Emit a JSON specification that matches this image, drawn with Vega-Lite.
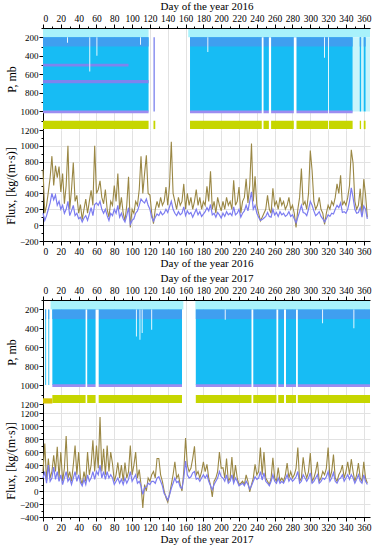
{
"$schema": "https://vega.github.io/schema/vega-lite/v6.json",
"padding": {"left": 4, "top": 0, "right": 2, "bottom": 2},
"background": "white",
"bounds": "flush",
"spacing": 0,
"config": {
  "view": {"stroke": null},
  "font": "Liberation Serif",
  "axis": {"domainColor": "black", "tickColor": "black", "labelColor": "black", "titleColor": "black", "labelFont": "Liberation Serif", "titleFont": "Liberation Serif", "labelFontSize": 9, "titleFontSize": 12, "titleFontWeight": "normal", "gridColor": "#e2e2e2", "labelOverlap": false, "labelPadding": 1, "titlePadding": 2},
  "axisX": {"titleFontSize": 11, "labelFontSize": 9.5, "labelOverlap": false},
  "axisY": {"labelOverlap": false}
},
"datasets": {
  "p16": [
    {"x0":0,"x1":118.5,"p0":110,"p1":200,"k":"lt"},
    {"x0":163,"x1":367,"p0":110,"p1":200,"k":"lt"},
    {"x0":347.5,"x1":367,"p0":200,"p1":1000,"k":"pale"},
    {"x0":0,"x1":118.5,"p0":200,"p1":1000,"k":"main"},
    {"x0":165,"x1":347.5,"p0":200,"p1":1000,"k":"main"},
    {"x0":355.5,"x1":357,"p0":200,"p1":1000,"k":"main"},
    {"x0":360,"x1":362,"p0":200,"p1":1000,"k":"main"},
    {"x0":0,"x1":118.5,"p0":200,"p1":300,"k":"top"},
    {"x0":165,"x1":347.5,"p0":200,"p1":300,"k":"top"},
    {"x0":355.5,"x1":357,"p0":200,"p1":300,"k":"top"},
    {"x0":360,"x1":362,"p0":200,"p1":300,"k":"top"},
    {"x0":124,"x1":125.5,"p0":200,"p1":1000,"k":"band"},
    {"x0":0,"x1":96,"p0":485,"p1":515,"k":"band"},
    {"x0":0,"x1":118.5,"p0":660,"p1":695,"k":"band"},
    {"x0":0,"x1":118.5,"p0":990,"p1":1020,"k":"edge"},
    {"x0":165,"x1":347.5,"p0":990,"p1":1020,"k":"edge"},
    {"x0":0,"x1":118.5,"p0":1100,"p1":1190,"k":"gnd"},
    {"x0":124,"x1":126,"p0":1100,"p1":1190,"k":"gnd"},
    {"x0":165,"x1":347.5,"p0":1100,"p1":1190,"k":"gnd"},
    {"x0":355.5,"x1":357,"p0":1100,"p1":1190,"k":"gnd"},
    {"x0":360,"x1":362,"p0":1100,"p1":1190,"k":"gnd"},
    {"x0":245.5,"x1":247.5,"p0":200,"p1":1195,"k":"gap"},
    {"x0":253.5,"x1":256,"p0":200,"p1":1195,"k":"gap"},
    {"x0":281.5,"x1":284.5,"p0":200,"p1":1195,"k":"gap"},
    {"x0":320,"x1":321,"p0":200,"p1":1195,"k":"gap"},
    {"x0":184.5,"x1":185.5,"p0":200,"p1":360,"k":"gap"},
    {"x0":315.5,"x1":316.5,"p0":200,"p1":420,"k":"gap"},
    {"x0":27,"x1":28,"p0":200,"p1":260,"k":"gap"},
    {"x0":52,"x1":53,"p0":200,"p1":570,"k":"gap"},
    {"x0":60,"x1":61,"p0":200,"p1":400,"k":"gap"},
    {"x0":109,"x1":110,"p0":200,"p1":280,"k":"gap"}
  ],
  "p17": [
    {"x0":8.5,"x1":157.5,"p0":110,"p1":200,"k":"lt"},
    {"x0":171,"x1":367,"p0":110,"p1":200,"k":"lt"},
    {"x0":2.5,"x1":3.5,"p0":200,"p1":1000,"k":"main"},
    {"x0":6,"x1":7,"p0":200,"p1":1000,"k":"main"},
    {"x0":10.5,"x1":156,"p0":200,"p1":1000,"k":"main"},
    {"x0":171.5,"x1":367,"p0":200,"p1":1000,"k":"main"},
    {"x0":2.5,"x1":3.5,"p0":200,"p1":300,"k":"top"},
    {"x0":6,"x1":7,"p0":200,"p1":300,"k":"top"},
    {"x0":10.5,"x1":156,"p0":200,"p1":300,"k":"top"},
    {"x0":171.5,"x1":367,"p0":200,"p1":300,"k":"top"},
    {"x0":10.5,"x1":156,"p0":990,"p1":1020,"k":"edge"},
    {"x0":171.5,"x1":367,"p0":990,"p1":1020,"k":"edge"},
    {"x0":0,"x1":10.5,"p0":1140,"p1":1195,"k":"gnd2"},
    {"x0":10.5,"x1":156,"p0":1105,"p1":1190,"k":"gnd"},
    {"x0":171.5,"x1":367,"p0":1105,"p1":1190,"k":"gnd"},
    {"x0":47.8,"x1":49.6,"p0":200,"p1":1195,"k":"gap"},
    {"x0":59,"x1":62.5,"p0":200,"p1":1195,"k":"gap"},
    {"x0":234,"x1":236,"p0":200,"p1":1195,"k":"gap"},
    {"x0":262,"x1":264,"p0":200,"p1":1195,"k":"gap"},
    {"x0":270.5,"x1":272.7,"p0":200,"p1":1195,"k":"gap"},
    {"x0":284,"x1":286,"p0":200,"p1":1195,"k":"gap"},
    {"x0":204,"x1":205,"p0":200,"p1":310,"k":"gap"},
    {"x0":313.3,"x1":314.3,"p0":200,"p1":345,"k":"gap"},
    {"x0":348.4,"x1":349.4,"p0":200,"p1":400,"k":"gap"},
    {"x0":104.3,"x1":105.3,"p0":200,"p1":485,"k":"gap"},
    {"x0":108.3,"x1":109.3,"p0":200,"p1":520,"k":"gap"},
    {"x0":110.8,"x1":111.8,"p0":200,"p1":450,"k":"gap"},
    {"x0":121.5,"x1":122.5,"p0":200,"p1":414,"k":"gap"}
  ],
  "f16": [
    {"d":0,"u":700,"l":150},{"d":2,"u":150,"l":60},{"d":4,"u":250,"l":120},{"d":6,"u":420,"l":200},{"d":8,"u":600,"l":280},
    {"d":10,"u":870,"l":400},{"d":12,"u":500,"l":320},{"d":14,"u":750,"l":380},{"d":16,"u":600,"l":250},{"d":18,"u":740,"l":300},
    {"d":20,"u":420,"l":200},{"d":22,"u":650,"l":250},{"d":24,"u":270,"l":150},{"d":26,"u":500,"l":200},{"d":28,"u":1000,"l":300},
    {"d":30,"u":200,"l":120},{"d":32,"u":450,"l":180},{"d":34,"u":790,"l":250},{"d":36,"u":300,"l":120},{"d":38,"u":375,"l":150},
    {"d":40,"u":150,"l":80},{"d":42,"u":260,"l":100},{"d":44,"u":70,"l":40},{"d":46,"u":200,"l":90},{"d":48,"u":330,"l":120},
    {"d":50,"u":150,"l":60},{"d":52,"u":300,"l":140},{"d":54,"u":440,"l":220},{"d":56,"u":250,"l":120},{"d":58,"u":1000,"l":260},
    {"d":60,"u":400,"l":280},{"d":62,"u":450,"l":250},{"d":64,"u":560,"l":300},{"d":66,"u":350,"l":200},{"d":68,"u":270,"l":150},
    {"d":70,"u":450,"l":200},{"d":72,"u":200,"l":120},{"d":74,"u":100,"l":60},{"d":76,"u":300,"l":150},{"d":78,"u":250,"l":120},
    {"d":80,"u":500,"l":200},{"d":82,"u":300,"l":150},{"d":84,"u":650,"l":250},{"d":86,"u":200,"l":100},{"d":88,"u":350,"l":150},
    {"d":90,"u":150,"l":80},{"d":92,"u":55,"l":40},{"d":94,"u":250,"l":120},{"d":96,"u":610,"l":220},{"d":98,"u":-30,"l":10},
    {"d":100,"u":200,"l":60},{"d":102,"u":150,"l":80},{"d":104,"u":300,"l":150},{"d":106,"u":250,"l":180},{"d":108,"u":450,"l":250},
    {"d":110,"u":870,"l":330},{"d":112,"u":400,"l":300},{"d":114,"u":650,"l":280},{"d":116,"u":880,"l":330},{"d":118,"u":400,"l":250},
    {"d":120,"u":380,"l":200},{"d":122,"u":150,"l":100},{"d":124,"u":20,"l":50},{"d":126,"u":200,"l":100},{"d":128,"u":300,"l":140},
    {"d":130,"u":220,"l":120},{"d":132,"u":350,"l":170},{"d":134,"u":250,"l":130},{"d":136,"u":300,"l":150},{"d":138,"u":480,"l":200},
    {"d":140,"u":250,"l":160},{"d":142,"u":500,"l":230},{"d":144,"u":1050,"l":300},{"d":146,"u":400,"l":200},{"d":148,"u":300,"l":150},
    {"d":150,"u":200,"l":120},{"d":152,"u":350,"l":170},{"d":154,"u":250,"l":130},{"d":156,"u":300,"l":150},{"d":158,"u":520,"l":230},
    {"d":160,"u":200,"l":120},{"d":162,"u":400,"l":180},{"d":164,"u":250,"l":140},{"d":166,"u":350,"l":160},{"d":168,"u":200,"l":100},
    {"d":170,"u":300,"l":150},{"d":172,"u":450,"l":200},{"d":174,"u":250,"l":130},{"d":176,"u":350,"l":170},{"d":178,"u":200,"l":110},
    {"d":180,"u":300,"l":140},{"d":182,"u":250,"l":170},{"d":184,"u":490,"l":220},{"d":186,"u":300,"l":180},{"d":188,"u":680,"l":260},
    {"d":190,"u":200,"l":130},{"d":192,"u":300,"l":150},{"d":194,"u":150,"l":100},{"d":196,"u":350,"l":160},{"d":198,"u":250,"l":130},
    {"d":200,"u":180,"l":90},{"d":202,"u":300,"l":150},{"d":204,"u":200,"l":110},{"d":206,"u":350,"l":170},{"d":208,"u":250,"l":130},
    {"d":210,"u":300,"l":150},{"d":212,"u":200,"l":120},{"d":214,"u":565,"l":230},{"d":216,"u":250,"l":130},{"d":218,"u":300,"l":150},
    {"d":220,"u":480,"l":200},{"d":222,"u":150,"l":100},{"d":224,"u":300,"l":150},{"d":226,"u":350,"l":180},{"d":228,"u":585,"l":250},
    {"d":230,"u":280,"l":180},{"d":232,"u":500,"l":300},{"d":234,"u":1030,"l":420},{"d":236,"u":300,"l":200},{"d":238,"u":615,"l":250},
    {"d":240,"u":250,"l":150},{"d":242,"u":150,"l":100},{"d":244,"u":55,"l":60},{"d":246,"u":100,"l":70},{"d":248,"u":150,"l":90},
    {"d":250,"u":200,"l":110},{"d":252,"u":375,"l":160},{"d":254,"u":200,"l":110},{"d":256,"u":150,"l":100},{"d":258,"u":465,"l":200},
    {"d":260,"u":250,"l":130},{"d":262,"u":300,"l":160},{"d":264,"u":200,"l":110},{"d":266,"u":350,"l":170},{"d":268,"u":250,"l":130},
    {"d":270,"u":300,"l":150},{"d":272,"u":200,"l":110},{"d":274,"u":250,"l":130},{"d":276,"u":350,"l":170},{"d":278,"u":200,"l":110},
    {"d":280,"u":250,"l":130},{"d":282,"u":150,"l":80},{"d":284,"u":-30,"l":30},{"d":286,"u":200,"l":100},{"d":288,"u":350,"l":170},
    {"d":290,"u":715,"l":250},{"d":292,"u":250,"l":160},{"d":294,"u":300,"l":150},{"d":296,"u":200,"l":120},{"d":298,"u":400,"l":200},
    {"d":300,"u":940,"l":300},{"d":302,"u":690,"l":250},{"d":304,"u":300,"l":180},{"d":306,"u":200,"l":120},{"d":308,"u":250,"l":140},
    {"d":310,"u":350,"l":170},{"d":312,"u":200,"l":110},{"d":314,"u":150,"l":80},{"d":316,"u":10,"l":40},{"d":318,"u":150,"l":80},
    {"d":320,"u":250,"l":130},{"d":322,"u":200,"l":110},{"d":324,"u":300,"l":150},{"d":326,"u":250,"l":140},{"d":328,"u":350,"l":200},
    {"d":330,"u":520,"l":250},{"d":332,"u":400,"l":220},{"d":334,"u":630,"l":280},{"d":336,"u":250,"l":160},{"d":338,"u":300,"l":170},
    {"d":340,"u":250,"l":150},{"d":342,"u":350,"l":200},{"d":344,"u":500,"l":300},{"d":346,"u":950,"l":470},{"d":348,"u":780,"l":350},
    {"d":350,"u":300,"l":200},{"d":352,"u":200,"l":150},{"d":354,"u":250,"l":160},{"d":356,"u":460,"l":220},{"d":358,"u":150,"l":100},
    {"d":360,"u":580,"l":240},{"d":362,"u":380,"l":200},{"d":364,"u":100,"l":80}
  ],
  "f17": [
    {"d":0,"u":300,"l":200},{"d":2,"u":730,"l":300},{"d":4,"u":150,"l":120},{"d":6,"u":500,"l":400},{"d":8,"u":200,"l":150},
    {"d":10,"u":300,"l":200},{"d":12,"u":550,"l":370},{"d":14,"u":300,"l":180},{"d":16,"u":680,"l":300},{"d":18,"u":200,"l":150},
    {"d":20,"u":600,"l":250},{"d":22,"u":150,"l":100},{"d":24,"u":350,"l":200},{"d":26,"u":845,"l":300},{"d":28,"u":200,"l":150},
    {"d":30,"u":300,"l":200},{"d":32,"u":150,"l":100},{"d":34,"u":400,"l":200},{"d":36,"u":700,"l":300},{"d":38,"u":250,"l":150},
    {"d":40,"u":600,"l":250},{"d":42,"u":200,"l":130},{"d":44,"u":100,"l":80},{"d":46,"u":300,"l":180},{"d":48,"u":150,"l":100},
    {"d":50,"u":600,"l":250},{"d":52,"u":250,"l":150},{"d":54,"u":400,"l":200},{"d":56,"u":780,"l":300},{"d":58,"u":300,"l":180},
    {"d":60,"u":700,"l":300},{"d":62,"u":350,"l":250},{"d":64,"u":1140,"l":400},{"d":66,"u":300,"l":200},{"d":68,"u":650,"l":300},
    {"d":70,"u":250,"l":180},{"d":72,"u":700,"l":300},{"d":74,"u":300,"l":200},{"d":76,"u":600,"l":250},{"d":78,"u":420,"l":200},
    {"d":80,"u":150,"l":100},{"d":82,"u":250,"l":150},{"d":84,"u":440,"l":200},{"d":86,"u":200,"l":120},{"d":88,"u":400,"l":180},
    {"d":90,"u":150,"l":100},{"d":92,"u":440,"l":200},{"d":94,"u":200,"l":120},{"d":96,"u":300,"l":180},{"d":98,"u":700,"l":300},
    {"d":100,"u":250,"l":150},{"d":102,"u":400,"l":200},{"d":104,"u":600,"l":250},{"d":106,"u":200,"l":120},{"d":108,"u":330,"l":150},
    {"d":110,"u":100,"l":80},{"d":112,"u":-260,"l":-50},{"d":114,"u":100,"l":50},{"d":116,"u":0,"l":60},{"d":118,"u":200,"l":120},
    {"d":120,"u":150,"l":100},{"d":122,"u":250,"l":150},{"d":124,"u":300,"l":150},{"d":126,"u":200,"l":120},{"d":128,"u":500,"l":200},
    {"d":130,"u":500,"l":220},{"d":132,"u":250,"l":150},{"d":134,"u":150,"l":80},{"d":136,"u":0,"l":-40},{"d":138,"u":-100,"l":-80},
    {"d":140,"u":-170,"l":-140},{"d":142,"u":-50,"l":-60},{"d":144,"u":100,"l":40},{"d":146,"u":250,"l":120},{"d":148,"u":450,"l":200},
    {"d":150,"u":200,"l":130},{"d":152,"u":250,"l":150},{"d":154,"u":100,"l":60},{"d":156,"u":0,"l":40},{"d":158,"u":300,"l":200},
    {"d":160,"u":815,"l":460},{"d":162,"u":400,"l":250},{"d":164,"u":300,"l":200},{"d":166,"u":350,"l":220},{"d":168,"u":500,"l":280},
    {"d":170,"u":690,"l":300},{"d":172,"u":250,"l":180},{"d":174,"u":300,"l":200},{"d":176,"u":200,"l":150},{"d":178,"u":300,"l":200},
    {"d":180,"u":450,"l":250},{"d":182,"u":300,"l":200},{"d":184,"u":410,"l":250},{"d":186,"u":200,"l":150},{"d":188,"u":90,"l":80},
    {"d":190,"u":-90,"l":20},{"d":192,"u":150,"l":100},{"d":194,"u":200,"l":150},{"d":196,"u":300,"l":200},{"d":198,"u":600,"l":300},
    {"d":200,"u":350,"l":220},{"d":202,"u":360,"l":200},{"d":204,"u":200,"l":150},{"d":206,"u":500,"l":250},{"d":208,"u":150,"l":120},
    {"d":210,"u":200,"l":150},{"d":212,"u":525,"l":250},{"d":214,"u":150,"l":120},{"d":216,"u":400,"l":200},{"d":218,"u":200,"l":150},
    {"d":220,"u":100,"l":80},{"d":222,"u":120,"l":100},{"d":224,"u":150,"l":120},{"d":226,"u":100,"l":80},{"d":228,"u":250,"l":150},
    {"d":230,"u":150,"l":100},{"d":232,"u":-15,"l":30},{"d":234,"u":100,"l":80},{"d":236,"u":200,"l":150},{"d":238,"u":410,"l":220},
    {"d":240,"u":250,"l":180},{"d":242,"u":300,"l":200},{"d":244,"u":670,"l":300},{"d":246,"u":250,"l":170},{"d":248,"u":600,"l":280},
    {"d":250,"u":200,"l":150},{"d":252,"u":150,"l":120},{"d":254,"u":100,"l":80},{"d":256,"u":200,"l":150},{"d":258,"u":510,"l":250},
    {"d":260,"u":200,"l":150},{"d":262,"u":150,"l":120},{"d":264,"u":360,"l":200},{"d":266,"u":150,"l":120},{"d":268,"u":200,"l":150},
    {"d":270,"u":150,"l":120},{"d":272,"u":250,"l":180},{"d":274,"u":430,"l":250},{"d":276,"u":200,"l":150},{"d":278,"u":300,"l":200},
    {"d":280,"u":200,"l":150},{"d":282,"u":250,"l":180},{"d":284,"u":350,"l":220},{"d":286,"u":670,"l":300},{"d":288,"u":150,"l":120},
    {"d":290,"u":200,"l":150},{"d":292,"u":520,"l":250},{"d":294,"u":300,"l":200},{"d":296,"u":200,"l":150},{"d":298,"u":300,"l":200},
    {"d":300,"u":585,"l":280},{"d":302,"u":150,"l":120},{"d":304,"u":200,"l":150},{"d":306,"u":300,"l":200},{"d":308,"u":450,"l":250},
    {"d":310,"u":150,"l":120},{"d":312,"u":200,"l":150},{"d":314,"u":300,"l":200},{"d":316,"u":250,"l":180},{"d":318,"u":350,"l":220},
    {"d":320,"u":670,"l":300},{"d":322,"u":200,"l":150},{"d":324,"u":300,"l":200},{"d":326,"u":560,"l":280},{"d":328,"u":200,"l":150},
    {"d":330,"u":150,"l":120},{"d":332,"u":250,"l":180},{"d":334,"u":300,"l":200},{"d":336,"u":400,"l":250},{"d":338,"u":200,"l":150},
    {"d":340,"u":300,"l":200},{"d":342,"u":450,"l":250},{"d":344,"u":250,"l":180},{"d":346,"u":490,"l":250},{"d":348,"u":300,"l":200},
    {"d":350,"u":150,"l":120},{"d":352,"u":250,"l":180},{"d":354,"u":430,"l":250},{"d":356,"u":200,"l":150},{"d":358,"u":150,"l":120},
    {"d":360,"u":450,"l":250},{"d":362,"u":200,"l":150},{"d":364,"u":120,"l":100}
  ]
},
"vconcat": [
  {
    "width": 327, "height": 102,
    "data": {"name": "p16"},
    "mark": {"type": "rect"},
    "encoding": {
      "x": {"field": "x0", "type": "quantitative", "scale": {"domain": [0, 367], "nice": false},
        "axis": {"orient": "top", "title": "Day of the year 2016", "labelOverlap": false, "values": [0,10,20,30,40,50,60,70,80,90,100,110,120,130,140,150,160,170,180,190,200,210,220,230,240,250,260,270,280,290,300,310,320,330,340,350,360],
          "labelExpr": "datum.value % 20 === 0 ? datum.label : ''",
          "tickSize": {"condition": {"test": "datum.value % 20 !== 0", "value": 2}, "value": 4},
          "grid": true, "gridOpacity": {"condition": {"test": "datum.value % 20 !== 0", "value": 0}, "value": 1}}},
      "x2": {"field": "x1"},
      "y": {"field": "p0", "type": "quantitative", "scale": {"domain": [100, 1200], "reverse": true, "nice": false},
        "axis": {"title": "P, mb", "labelOverlap": false, "values": [100,200,300,400,500,600,700,800,900,1000,1100,1200], "format": "d",
          "labelExpr": "datum.value % 200 === 0 ? datum.label : ''",
          "tickSize": {"condition": {"test": "datum.value % 200 !== 0", "value": 2}, "value": 4}, "grid": false}},
      "y2": {"field": "p1"},
      "color": {"field": "k", "type": "nominal", "legend": null,
        "scale": {"domain": ["lt","pale","main","top","band","edge","gnd","gnd2","gap"], "range": ["#a8f2fb","#c9f5fb","#17bcf4","#3f9ff0","#7e84ee","#9d8cf0","#c6d600","#d8c400","#ffffff"]}}
    }
  },
  {
    "width": 327, "height": 111,
    "data": {"name": "f16"},
    "encoding": {
      "x": {"field": "d", "type": "quantitative", "scale": {"domain": [0, 367], "nice": false},
        "axis": {"orient": "bottom", "title": "Day of the year 2016", "labelOverlap": false, "values": [0,10,20,30,40,50,60,70,80,90,100,110,120,130,140,150,160,170,180,190,200,210,220,230,240,250,260,270,280,290,300,310,320,330,340,350,360],
          "labelExpr": "datum.value % 20 === 0 ? datum.label : ''",
          "tickSize": {"condition": {"test": "datum.value % 20 !== 0", "value": 2}, "value": 4},
          "grid": true, "gridOpacity": {"condition": {"test": "datum.value % 20 !== 0", "value": 0}, "value": 1}}}
    },
    "layer": [
      {"mark": {"type": "line", "color": "#9a8744", "strokeWidth": 1.1},
        "encoding": {"y": {"field": "u", "type": "quantitative", "scale": {"domain": [-200, 1200], "nice": false},
          "axis": {"title": "Flux, [kg/(m·s)]", "labelOverlap": false, "format": "d", "values": [-200,-100,0,100,200,300,400,500,600,700,800,900,1000,1100],
            "labelExpr": "datum.value % 200 === 0 ? datum.label : ''",
            "tickSize": {"condition": {"test": "datum.value % 200 !== 0", "value": 2}, "value": 4},
            "grid": true, "gridOpacity": {"condition": {"test": "datum.value % 200 !== 0", "value": 0}, "value": 1}}}}},
      {"mark": {"type": "line", "color": "#7c7cf0", "strokeWidth": 1.2},
        "encoding": {"y": {"field": "l", "type": "quantitative",
          "axis": {"title": "Flux, [kg/(m·s)]", "labelOverlap": false, "format": "d", "values": [-200,-100,0,100,200,300,400,500,600,700,800,900,1000,1100],
            "labelExpr": "datum.value % 200 === 0 ? datum.label : ''",
            "tickSize": {"condition": {"test": "datum.value % 200 !== 0", "value": 2}, "value": 4},
            "grid": true, "gridOpacity": {"condition": {"test": "datum.value % 200 !== 0", "value": 0}, "value": 1}}}}}
    ]
  },
  {
    "width": 327, "height": 59,
    "data": {"values": [{"a": 1}]},
    "mark": {"type": "point", "opacity": 0},
    "encoding": {}
  },
  {
    "width": 327, "height": 104,
    "data": {"name": "p17"},
    "mark": {"type": "rect"},
    "encoding": {
      "x": {"field": "x0", "type": "quantitative", "scale": {"domain": [0, 367], "nice": false},
        "axis": {"orient": "top", "title": "Day of the year 2017", "labelOverlap": false, "values": [0,10,20,30,40,50,60,70,80,90,100,110,120,130,140,150,160,170,180,190,200,210,220,230,240,250,260,270,280,290,300,310,320,330,340,350,360],
          "labelExpr": "datum.value % 20 === 0 ? datum.label : ''",
          "tickSize": {"condition": {"test": "datum.value % 20 !== 0", "value": 2}, "value": 4},
          "grid": true, "gridOpacity": {"condition": {"test": "datum.value % 20 !== 0", "value": 0}, "value": 1}}},
      "x2": {"field": "x1"},
      "y": {"field": "p0", "type": "quantitative", "scale": {"domain": [100, 1200], "reverse": true, "nice": false},
        "axis": {"title": "P, mb", "labelOverlap": false, "values": [100,200,300,400,500,600,700,800,900,1000,1100,1200], "format": "d",
          "labelExpr": "datum.value % 200 === 0 ? datum.label : ''",
          "tickSize": {"condition": {"test": "datum.value % 200 !== 0", "value": 2}, "value": 4}, "grid": false}},
      "y2": {"field": "p1"},
      "color": {"field": "k", "type": "nominal", "legend": null,
        "scale": {"domain": ["lt","pale","main","top","band","edge","gnd","gnd2","gap"], "range": ["#a8f2fb","#c9f5fb","#17bcf4","#3f9ff0","#7e84ee","#9d8cf0","#c6d600","#d8c400","#ffffff"]}}
    }
  },
  {
    "width": 327, "height": 113,
    "data": {"name": "f17"},
    "encoding": {
      "x": {"field": "d", "type": "quantitative", "scale": {"domain": [0, 367], "nice": false},
        "axis": {"orient": "bottom", "title": "Day of the year 2017", "labelOverlap": false, "values": [0,10,20,30,40,50,60,70,80,90,100,110,120,130,140,150,160,170,180,190,200,210,220,230,240,250,260,270,280,290,300,310,320,330,340,350,360],
          "labelExpr": "datum.value % 20 === 0 ? datum.label : ''",
          "tickSize": {"condition": {"test": "datum.value % 20 !== 0", "value": 2}, "value": 4},
          "grid": true, "gridOpacity": {"condition": {"test": "datum.value % 20 !== 0", "value": 0}, "value": 1}}}
    },
    "layer": [
      {"mark": {"type": "line", "color": "#9a8744", "strokeWidth": 1.1},
        "encoding": {"y": {"field": "u", "type": "quantitative", "scale": {"domain": [-400, 1340], "nice": false},
          "axis": {"title": "Flux, [kg/(m·s)]", "labelOverlap": false, "format": "d", "values": [-400,-300,-200,-100,0,100,200,300,400,500,600,700,800,900,1000,1100,1200],
            "labelExpr": "datum.value % 200 === 0 ? datum.label : ''",
            "tickSize": {"condition": {"test": "datum.value % 200 !== 0", "value": 2}, "value": 4},
            "grid": true, "gridOpacity": {"condition": {"test": "datum.value % 200 !== 0", "value": 0}, "value": 1}}}}},
      {"mark": {"type": "line", "color": "#7c7cf0", "strokeWidth": 1.2},
        "encoding": {"y": {"field": "l", "type": "quantitative",
          "axis": {"title": "Flux, [kg/(m·s)]", "labelOverlap": false, "format": "d", "values": [-400,-300,-200,-100,0,100,200,300,400,500,600,700,800,900,1000,1100,1200],
            "labelExpr": "datum.value % 200 === 0 ? datum.label : ''",
            "tickSize": {"condition": {"test": "datum.value % 200 !== 0", "value": 2}, "value": 4},
            "grid": true, "gridOpacity": {"condition": {"test": "datum.value % 200 !== 0", "value": 0}, "value": 1}}}}}
    ]
  }
]
}
